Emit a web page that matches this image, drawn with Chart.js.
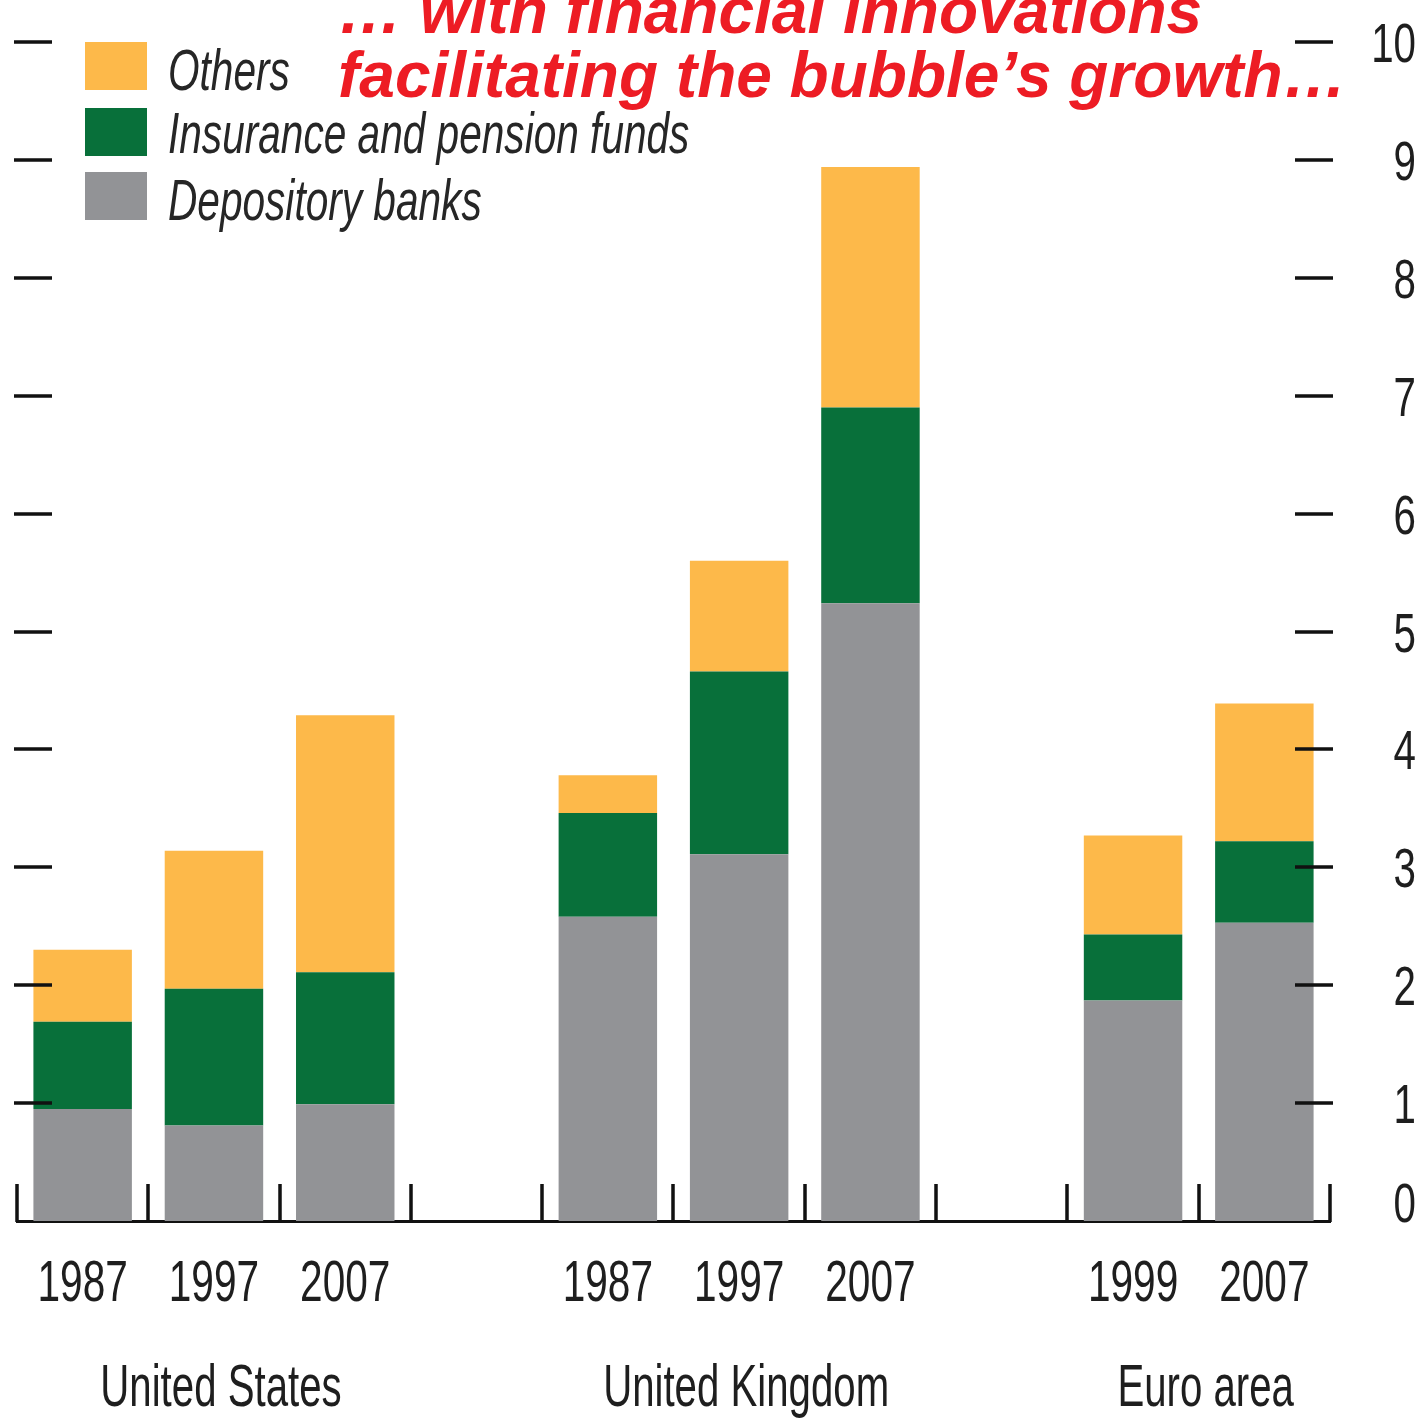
<!DOCTYPE html>
<html>
<head>
<meta charset="utf-8">
<script src="https://cdn.jsdelivr.net/npm/chart.js@4"></script>
<style>
  html, body { margin: 0; padding: 0; background: #fff; overflow: hidden; }
  #wrap { position: relative; width: 1426px; height: 1421px; }
  #c { position: absolute; left: 0; top: 0; }
  .title { position: absolute; left: 338px; top: -21px; font-family: "Liberation Sans", Arial, sans-serif;
    font-weight: bold; font-style: italic; font-size: 64px; line-height: 64px; color: #ED1C24; white-space: pre; }
  .sw { position: absolute; left: 85px; width: 62px; height: 48px; }
  .lt { position: absolute; left: 168px; font-family: "Liberation Sans", Arial, sans-serif;
    font-style: italic; font-size: 58px; line-height: 58px; color: #262626; white-space: pre;
    transform: scaleX(0.70); transform-origin: left center; }
</style>
</head>
<body>
<div id="wrap">
  <canvas id="c" width="1426" height="1421"></canvas>
  <div class="title">… with financial innovations
facilitating the bubble’s growth…</div>
  <div class="sw" style="top:42px;background:#FDB94A"></div>
  <div class="lt" style="top:41px">Others</div>
  <div class="sw" style="top:108px;background:#08703A"></div>
  <div class="lt" style="top:104px">Insurance and pension funds</div>
  <div class="sw" style="top:172px;background:#929396"></div>
  <div class="lt" style="top:171px">Depository banks</div>
</div>
<script>
const categories = ['1987', '1997', '2007', '', '1987', '1997', '2007', '', '1999', '2007'];
const groupNames = ['United States', 'United Kingdom', 'Euro area'];
const groupSlots = [[0, 2], [4, 6], [8, 9]];
const depositoryBanks = [0.95, 0.81, 0.99, null, 2.58, 3.11, 5.24, null, 1.87, 2.53];
const insurancePension = [0.74, 1.16, 1.12, null, 0.88, 1.55, 1.66, null, 0.56, 0.69];
const others = [0.61, 1.17, 2.18, null, 0.32, 0.94, 2.04, null, 0.84, 1.17];
const yTicks = [0, 1, 2, 3, 4, 5, 6, 7, 8, 9, 10];

const FONT = '"Liberation Sans", Arial, sans-serif';

function condensedText(ctx, text, x, y, size, sx, align) {
  ctx.save();
  ctx.font = size + 'px ' + FONT;
  ctx.textAlign = align;
  ctx.textBaseline = 'alphabetic';
  ctx.translate(x, y);
  ctx.scale(sx, 1);
  ctx.fillText(text, 0, 0);
  ctx.restore();
}

const decor = {
  id: 'decor',
  afterDatasetsDraw(chart) {
    const { ctx, chartArea, scales: { x, y } } = chart;
    ctx.save();
    ctx.strokeStyle = '#111';
    ctx.lineWidth = 3.5;
    ctx.beginPath();
    y.ticks.forEach(t => {
      if (t.value === 0) return;
      const py = Math.round(y.getPixelForValue(t.value));
      ctx.moveTo(chartArea.left - 3, py); ctx.lineTo(chartArea.left + 35, py);
      ctx.moveTo(chartArea.right - 35, py); ctx.lineTo(chartArea.right + 3, py);
    });
    const n = categories.length;
    const slot = x.getPixelForValue(1) - x.getPixelForValue(0);
    for (let i = 0; i <= n; i++) {
      const px = Math.round(x.getPixelForValue(0) - slot / 2 + i * slot);
      ctx.moveTo(px, chartArea.bottom + 1); ctx.lineTo(px, chartArea.bottom - 37);
    }
    ctx.stroke();
    ctx.restore();
  },
  afterDraw(chart) {
    const { ctx, chartArea, scales: { x, y } } = chart;
    ctx.save();
    ctx.fillStyle = '#1e1e1e';
    x.ticks.forEach((t, i) => {
      const lbl = x.getLabelForValue(t.value);
      if (!lbl) return;
      condensedText(ctx, lbl, x.getPixelForTick(i), chartArea.bottom + 80, 58, 0.70, 'center');
    });
    groupNames.forEach((g, k) => {
      const [a, b] = groupSlots[k];
      const cx = (x.getPixelForValue(a) + x.getPixelForValue(b)) / 2 + 7;
      condensedText(ctx, g, cx, chartArea.bottom + 185, 60, 0.67, 'center');
    });
    y.ticks.forEach(t => {
      let cy = y.getPixelForValue(t.value);
      cy = Math.min(Math.max(cy, chartArea.top - 11), chartArea.bottom - 19);
      condensedText(ctx, String(t.value), 1416, cy + 20, 56, 0.72, 'right');
    });
    ctx.restore();
  }
};

new Chart(document.getElementById('c'), {
  type: 'bar',
  data: {
    labels: categories,
    datasets: [
      { label: 'Depository banks', data: depositoryBanks, backgroundColor: '#929396' },
      { label: 'Insurance and pension funds', data: insurancePension, backgroundColor: '#08703A' },
      { label: 'Others', data: others, backgroundColor: '#FDB94A' }
    ]
  },
  options: {
    responsive: false,
    animation: false,
    events: [],
    barPercentage: 0.75,
    categoryPercentage: 1.0,
    layout: { padding: { left: 17, top: 42, right: 0, bottom: 0 } },
    plugins: { legend: { display: false }, title: { display: false }, tooltip: { enabled: false } },
    scales: {
      x: {
        stacked: true,
        grid: { display: false },
        border: { display: true, color: '#111', width: 3 },
        ticks: { display: false, autoSkip: false },
        afterFit(s) { s.height = 200; }
      },
      y: {
        stacked: true,
        position: 'right',
        min: 0, max: 10,
        grid: { display: false },
        border: { display: false },
        afterBuildTicks(s) { s.ticks = yTicks.map(v => ({ value: v })); },
        ticks: { display: false },
        afterFit(s) { s.width = 96; }
      }
    }
  },
  plugins: [decor]
});
</script>
</body>
</html>
